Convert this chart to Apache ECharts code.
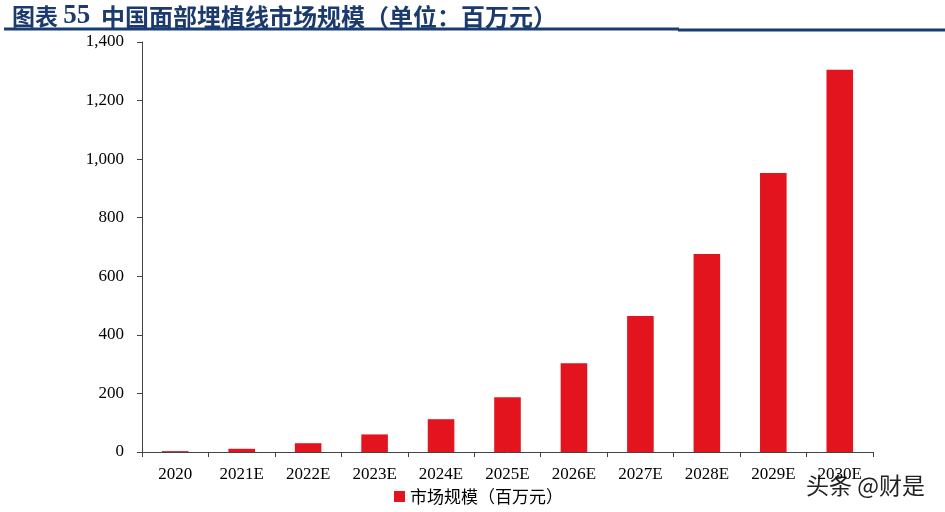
<!DOCTYPE html>
<html>
<head>
<meta charset="utf-8">
<script src="https://cdn.jsdelivr.net/npm/echarts@6/dist/echarts.min.js"></script>
<style>
  html, body { margin: 0; padding: 0; background: #fff; }
  #chart { width: 945px; height: 512px; }
</style>
</head>
<body>
<div id="chart"></div>
<script>
const categories = ['2020', '2021E', '2022E', '2023E', '2024E', '2025E', '2026E', '2027E', '2028E', '2029E', '2030E'];
const marketSize = [3, 11, 30, 60, 112, 187, 303, 464, 676, 953, 1305];
const seriesName = '市场规模（百万元）';
const yTicks = { min: 0, max: 1400, interval: 200 };

window.addEventListener('load', function () {
    const myChart = echarts.init(document.getElementById('chart'));
    const serif = '"Liberation Serif", "Times New Roman", serif';

    const option = {
        animation: false,
        title: {
            text: '{a|图表 }{b|55}{c|  中国面部埋植线市场规模（单位：百万元）}',
            left: 7,
            top: -2,
            textStyle: {
                rich: {
                    a: { color: '#1b3a6d', fontSize: 23, fontWeight: 'bold', fontFamily: '"Noto Sans CJK SC"' },
                    b: { color: '#1b3a6d', fontSize: 27, fontWeight: 'bold', fontFamily: serif },
                    c: { color: '#1b3a6d', fontSize: 24, fontWeight: 'bold', fontFamily: '"Noto Sans CJK SC"' }
                }
            }
        },
        graphic: [
            {
                type: 'line',
                shape: { x1: 4, y1: 29, x2: 679, y2: 29 },
                style: { stroke: '#173d72', lineWidth: 3 }
            },
            {
                type: 'line',
                shape: { x1: 678, y1: 30, x2: 945, y2: 30 },
                style: { stroke: '#173d72', lineWidth: 3 }
            },
            {
                type: 'text',
                left: 805,
                top: 473,
                style: {
                    text: '头条 @财是',
                    fill: '#222',
                    stroke: '#fff',
                    lineWidth: 2,
                    font: '23px "Noto Sans CJK SC"'
                }
            }
        ],
        legend: {
            bottom: 2,
            left: 389,
            itemWidth: 11,
            itemHeight: 11,
            itemGap: 4,
            icon: 'rect',
            data: [seriesName],
            textStyle: { color: '#000', fontSize: 17, fontFamily: '"Noto Sans CJK SC"' }
        },
        grid: { left: 142, right: 72, top: 42, bottom: 60 },
        xAxis: {
            type: 'category',
            data: categories,
            axisLine: { lineStyle: { color: '#444', width: 1 } },
            axisTick: { show: true, length: 5, lineStyle: { color: '#444' } },
            axisLabel: { color: '#000', fontSize: 17, margin: 14, fontFamily: serif }
        },
        yAxis: {
            type: 'value',
            min: yTicks.min,
            max: yTicks.max,
            interval: yTicks.interval,
            splitLine: { show: false },
            axisLine: { show: true, lineStyle: { color: '#444', width: 1 } },
            axisTick: { show: true, length: 5, lineStyle: { color: '#444' } },
            axisLabel: {
                color: '#000',
                fontSize: 17,
                margin: 18,
                fontFamily: serif,
                formatter: v => v.toLocaleString('en-US')
            }
        },
        series: [{
            name: seriesName,
            type: 'bar',
            data: marketSize,
            barWidth: '40%',
            itemStyle: { color: '#e3141d' }
        }]
    };

    myChart.setOption(option);
});
</script>
</body>
</html>
